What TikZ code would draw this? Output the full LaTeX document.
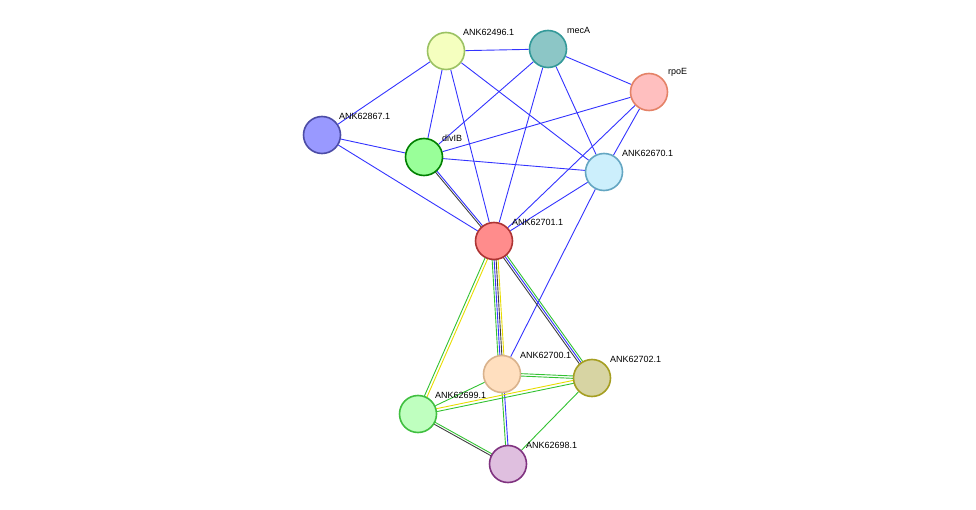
\documentclass[tikz,border=0pt]{standalone}
\usepackage{fontspec}
\setmainfont{Liberation Sans}
\usetikzlibrary{backgrounds}
\begin{document}
\begin{tikzpicture}[x=1pt,y=-1pt,
 prot/.style={circle,minimum size=37pt,inner sep=0pt,line width=1.6pt},
 lab/.style={font=\fontsize{9}{10}\selectfont,anchor=south west,inner sep=1pt},
 be/.style={draw=blue!80!white,line width=0.9pt},
 ge/.style={draw=green!70!black!80,line width=0.9pt},
 ye/.style={draw=yellow!80!olive,line width=0.9pt},
 de/.style={draw=black!75,line width=0.9pt}]
\useasboundingbox (0,0) rectangle (976,510);
\def\N#1#2#3#4#5{\node[prot,fill=#4,draw=#5] (#1) at (#2,#3) {};}
\N{a}{446}{51}{green!15!yellow!25}{olive!50!green!60}
\N{m}{548}{49}{teal!45!white}{teal!80}
\N{r}{649}{92}{red!25!white}{red!40!brown!70}
\N{k}{322}{135}{blue!40!white}{blue!50!black!70}
\N{d}{424}{157}{green!40!white}{green!50!black}
\N{f}{604}{172}{cyan!20!white}{cyan!50!gray}
\N{c}{494}{241}{red!45!white}{red!60!black!80}
\N{p}{502}{374}{orange!25!white}{brown!60}
\N{q}{592}{378}{yellow!40!gray!60}{olive!80}
\N{s}{418}{414}{green!25!white}{green!50!gray}
\N{t}{508}{464}{violet!25!white}{violet!60!gray}
\begin{scope}[on background layer]
\foreach \u/\v in {a/m,a/k,a/d,a/c,a/f,m/d,m/r,m/c,m/f,r/d,r/c,r/f,k/d,k/c,d/f,f/c,f/p}
  \draw[be] (\u) -- (\v);
\draw[de] ([xshift=-1.2]d.center) -- ([xshift=-1.2]c.center);
\draw[be] ([xshift=1.2]d.center) -- ([xshift=1.2]c.center);
\draw[ge] ([xshift=-3]c.center) -- ([xshift=-3]p.center);
\draw[be] ([xshift=-1]c.center) -- ([xshift=-1]p.center);
\draw[de] ([xshift=1]c.center) -- ([xshift=1]p.center);
\draw[ye] ([xshift=3]c.center) -- ([xshift=3]p.center);
\draw[ge] ([xshift=2.5]c.center) -- ([xshift=2.5]q.center);
\draw[be] ([xshift=0]c.center) -- ([xshift=0]q.center);
\draw[de] ([xshift=-2.5]c.center) -- ([xshift=-2.5]q.center);
\draw[ge] ([xshift=-1.5]c.center) -- ([xshift=-1.5]s.center);
\draw[ye] ([xshift=1.5]c.center) -- ([xshift=1.5]s.center);
\draw[ge] ([yshift=-1.2]p.center) -- ([yshift=-1.2]q.center);
\draw[ge] ([yshift=1.2]p.center) -- ([yshift=1.2]q.center);
\draw[ge] ([xshift=-1.2]p.center) -- ([xshift=-1.2]t.center);
\draw[be] ([xshift=1.2]p.center) -- ([xshift=1.2]t.center);
\draw[ge] ([yshift=-1.5]s.center) -- ([yshift=-1.5]q.center);
\draw[ye] ([yshift=1.5]s.center) -- ([yshift=1.5]q.center);
\draw[ge] (q) -- (t);
\draw[ge] (s) -- (p);
\draw[de] ([yshift=-1.2]s.center) -- ([yshift=-1.2]t.center);
\draw[ge] ([yshift=1.2]s.center) -- ([yshift=1.2]t.center);
\end{scope}
\node[lab] at (462,37) {ANK62496.1};
\node[lab] at (566,35) {mecA};
\node[lab] at (667,78) {rpoE};
\node[lab] at (338,121) {ANK62867.1};
\node[lab] at (441,143) {divIB};
\node[lab] at (621,158) {ANK62670.1};
\node[lab] at (511,227) {ANK62701.1};
\node[lab] at (519,360) {ANK62700.1};
\node[lab] at (609,364) {ANK62702.1};
\node[lab] at (434,400) {ANK62699.1};
\node[lab] at (525,450) {ANK62698.1};
\end{tikzpicture}
\end{document}
